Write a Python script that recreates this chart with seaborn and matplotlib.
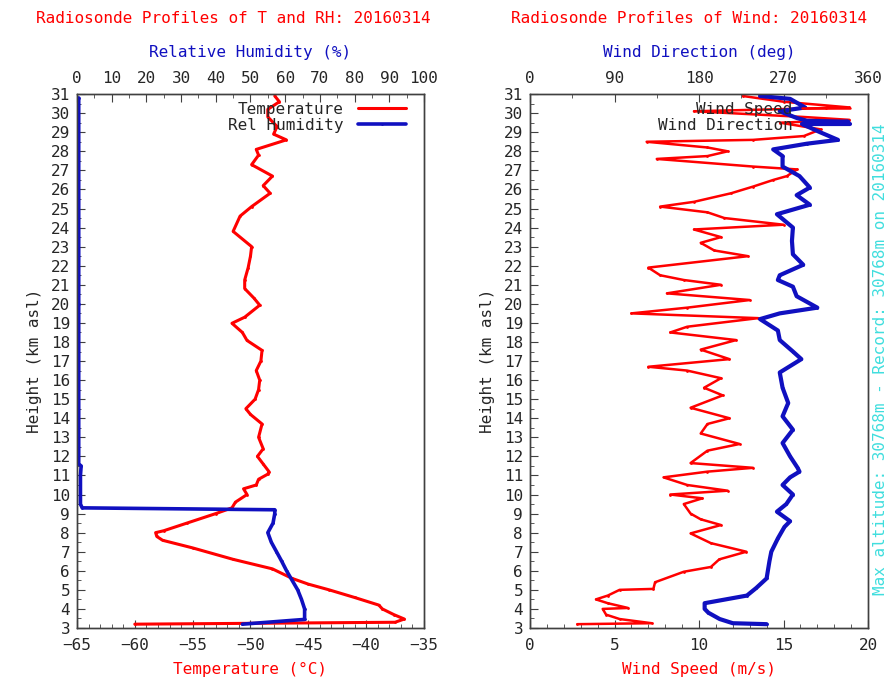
"""Radiosonde profiles: T/RH and wind, 20160314."""

import matplotlib

matplotlib.use("Agg")
import matplotlib.pyplot as plt
import seaborn as sns
from matplotlib.ticker import AutoMinorLocator, MultipleLocator

# temperature profile (height km, degC)
temp_height = [3.2, 3.3, 3.47, 3.7, 4.0, 4.2, 4.6, 5.0, 5.3, 5.6, 6.1, 6.6, 7.2, 7.6,
               7.8, 8.0, 8.1, 8.5, 9.0, 9.3, 9.6, 10.0, 10.3, 10.5, 10.8, 11.07, 11.2,
               11.6, 12.0, 12.4, 13.0, 13.7, 14.2, 14.5, 15.0, 15.5, 16.0, 16.5, 17.0,
               17.56, 18.08, 18.5, 18.98, 19.3, 19.93, 20.3, 20.8, 21.25, 21.9, 22.5,
               23.0, 23.8, 24.6, 25.1, 25.8, 26.2, 26.7, 27.3, 27.8, 28.1, 28.6, 28.9,
               29.3, 29.8, 30.2, 30.6, 30.9]
temp_values = [-60.0, -37.5, -36.7, -37.6, -38.6, -38.9, -41.0, -43.2, -45.0, -46.4,
               -48.1, -51.5, -55.0, -57.6, -58.1, -58.2, -57.5, -55.5, -53.0, -51.6,
               -51.3, -50.3, -50.6, -49.5, -49.3, -48.5, -48.4, -48.9, -49.4, -48.9,
               -49.3, -49.0, -50.0, -50.4, -49.6, -49.3, -49.2, -49.5, -49.1, -49.0,
               -50.3, -50.7, -51.6, -50.5, -49.2, -49.7, -50.5, -50.5, -50.2, -50.0,
               -49.9, -51.5, -50.9, -49.9, -48.3, -48.9, -48.1, -49.9, -49.3, -49.5,
               -46.9, -48.0, -47.7, -48.5, -48.5, -47.5, -47.9]

# relative humidity profile (height km, %)
rh_height = [3.2, 3.45, 4.0, 4.5, 5.0, 5.5, 6.0, 6.5, 7.0, 7.5, 8.0, 8.5, 9.0, 9.2,
             9.3, 9.5, 10.0, 11.0, 11.5, 11.6, 20.0, 30.8]
rh_values = [47.7, 65.6, 65.6, 64.7, 63.6, 62.0, 60.4, 59.0, 57.5, 56.0, 55.0, 56.5,
             57.0, 57.0, 1.5, 1.0, 1.0, 1.0, 1.2, 0.5, 0.5, 0.5]

# wind speed profile (height km, m/s)
ws_height = [3.2, 3.25, 3.47, 3.7, 4.0, 4.05, 4.3, 4.5, 4.7, 5.0, 5.05, 5.4, 5.95,
             6.2, 6.6, 7.0, 7.45, 7.96, 8.4, 8.7, 9.0, 9.5, 9.8, 10.0, 10.2, 10.5,
             10.9, 11.2, 11.4, 11.65, 12.3, 12.65, 13.2, 13.7, 14.0, 14.55, 15.2, 15.6,
             16.1, 16.5, 16.7, 17.1, 17.6, 18.1, 18.5, 18.8, 19.25, 19.5, 19.8, 20.2,
             20.55, 21.0, 21.25, 21.5, 21.9, 22.5, 22.8, 23.2, 23.5, 23.9, 24.15, 24.5,
             24.8, 25.1, 25.35, 25.8, 26.15, 26.5, 26.7, 27.05, 27.2, 27.6, 27.75, 28.0,
             28.2, 28.5, 28.6, 28.8, 29.15, 29.5, 29.65, 29.8, 30.1, 30.3, 30.6, 30.9]
ws_values = [2.8, 7.2, 5.3, 4.5, 4.3, 5.8, 4.6, 3.9, 4.6, 5.3, 7.3, 7.4, 9.1, 10.7,
             11.2, 12.8, 10.7, 9.5, 11.3, 10.1, 9.5, 9.1, 10.2, 8.3, 11.7, 9.3, 7.9,
             10.5, 13.2, 9.5, 10.5, 12.4, 10.1, 10.5, 11.8, 9.5, 11.4, 10.3, 11.3, 9.3,
             7.0, 11.8, 10.1, 12.2, 8.3, 9.3, 13.5, 6.0, 9.3, 13.0, 8.1, 11.3, 9.1, 7.7,
             7.0, 12.9, 10.9, 10.1, 11.3, 9.7, 15.0, 11.5, 10.5, 7.7, 9.7, 11.9, 13.2,
             14.4, 15.2, 15.8, 13.2, 7.5, 10.5, 11.7, 10.5, 6.9, 13.2, 16.2, 17.2, 14.8,
             18.9, 16.2, 9.7, 18.9, 15.0, 12.6]

# wind direction profile (height km, deg)
wd_height = [3.2, 3.25, 3.47, 3.8, 4.0, 4.3, 4.7, 5.1, 5.6, 6.5, 7.0, 7.7, 8.3, 8.6,
             9.1, 9.5, 10.0, 10.5, 10.9, 11.2, 11.4, 12.0, 12.7, 13.4, 14.1, 14.8, 15.6,
             16.4, 17.1, 17.5, 18.1, 18.6, 19.2, 19.5, 19.8, 20.4, 20.9, 21.25, 21.5,
             22.05, 22.6, 23.3, 24.0, 24.7, 25.2, 25.7, 26.1, 26.7, 27.2, 27.75, 28.1,
             28.4, 28.6, 29.0, 29.4, 29.55, 29.6, 29.75, 30.1, 30.3, 30.75, 30.9]
wd_values = [252, 216, 202, 190, 186, 186, 231, 241, 252, 255, 257, 264, 271, 277,
             263, 273, 280, 269, 277, 287, 285, 277, 269, 280, 269, 275, 269, 266, 289,
             280, 266, 264, 245, 266, 306, 284, 280, 264, 266, 291, 280, 279, 280, 263,
             298, 284, 298, 287, 269, 269, 259, 295, 328, 309, 291, 339, 295, 284, 266,
             293, 277, 245]

RED = "#ff0000"
BLUE = "#1010c0"
CYAN = "#40dede"
FS = 11.5

sns.set_style("white")
plt.rcParams["font.family"] = ["DejaVu Sans Mono", "DejaVu Sans"]
plt.rcParams["font.size"] = FS


def _frame(ax):
    for s in ax.spines.values():
        s.set_color("#404040")
        s.set_linewidth(1.0)
    ax.tick_params(which="both", direction="in", color="#404040", labelsize=FS)
    ax.tick_params(which="major", length=6)
    ax.tick_params(which="minor", length=3)


def _height_axis(ax):
    ax.set_ylim(3, 31)
    ax.yaxis.set_major_locator(MultipleLocator(1))
    ax.yaxis.set_minor_locator(MultipleLocator(0.5))
    ax.set_ylabel("Height (km asl)", fontsize=FS, labelpad=6)
    ax.tick_params(axis="y", which="both", left=True, right=False, pad=5)


fig = plt.figure(figsize=(8.92, 6.77), dpi=100)
ax1 = fig.add_axes([0.0863, 0.0724, 0.3890, 0.7886])
ax2 = fig.add_axes([0.5942, 0.0724, 0.3789, 0.7886])

# --- left: temperature and RH
sns.lineplot(x=temp_values, y=temp_height, sort=False, estimator=None, ax=ax1,
             color=RED, lw=2.2, marker=".", markersize=4, markeredgewidth=0,
             label="Temperature", legend=False)
ax1.set_xlim(-65, -35)
ax1.xaxis.set_major_locator(MultipleLocator(5))
ax1.xaxis.set_minor_locator(AutoMinorLocator(5))
ax1.set_xlabel("Temperature (°C)", color=RED, fontsize=FS, labelpad=7)
_height_axis(ax1)
_frame(ax1)
ax1.tick_params(axis="x", which="both", top=False, pad=7)

ax1t = ax1.twiny()
sns.lineplot(x=rh_values, y=rh_height, sort=False, estimator=None, ax=ax1t,
             color=BLUE, lw=2.6, marker=".", markersize=4, markeredgewidth=0,
             label="Rel Humidity", legend=False)
ax1t.set_xlim(0, 100)
ax1t.xaxis.set_major_locator(MultipleLocator(10))
ax1t.xaxis.set_minor_locator(MultipleLocator(5))
ax1t.set_xlabel("Relative Humidity (%)", color=BLUE, fontsize=FS, labelpad=10)
_frame(ax1t)
ax1t.tick_params(axis="x", which="both", bottom=False, pad=6)
ax1t.set_title("Radiosonde Profiles of T and RH: 20160314", color=RED,
               fontsize=FS, pad=16, x=0.45)

h = ax1.get_legend_handles_labels()[0] + ax1t.get_legend_handles_labels()[0]
l = ax1.get_legend_handles_labels()[1] + ax1t.get_legend_handles_labels()[1]
ax1t.legend(h, l, loc="upper right", frameon=False, markerfirst=False,
            fontsize=FS, handlelength=3.0, borderaxespad=0.1, labelspacing=0.05,
            handletextpad=0.9, bbox_to_anchor=(0.97, 1.0))

# --- right: wind
sns.lineplot(x=ws_values, y=ws_height, sort=False, estimator=None, ax=ax2,
             color=RED, lw=1.8, marker=".", markersize=4, markeredgewidth=0,
             label="Wind Speed", legend=False)
ax2.set_xlim(0, 20)
ax2.xaxis.set_major_locator(MultipleLocator(5))
ax2.xaxis.set_minor_locator(MultipleLocator(1))
ax2.set_xlabel("Wind Speed (m/s)", color=RED, fontsize=FS, labelpad=7)
_height_axis(ax2)
_frame(ax2)
ax2.tick_params(axis="x", which="both", top=False, pad=7)

ax2t = ax2.twiny()
sns.lineplot(x=wd_values, y=wd_height, sort=False, estimator=None, ax=ax2t,
             color=BLUE, lw=3.0, marker=".", markersize=4, markeredgewidth=0,
             label="Wind Direction", legend=False)
ax2t.set_xlim(0, 360)
ax2t.xaxis.set_major_locator(MultipleLocator(90))
ax2t.xaxis.set_minor_locator(MultipleLocator(45))
ax2t.set_xlabel("Wind Direction (deg)", color=BLUE, fontsize=FS, labelpad=10)
_frame(ax2t)
ax2t.tick_params(axis="x", which="both", bottom=False, pad=6)
ax2t.set_title("Radiosonde Profiles of Wind: 20160314", color=RED,
               fontsize=FS, pad=16, x=0.47)

h = ax2.get_legend_handles_labels()[0] + ax2t.get_legend_handles_labels()[0]
l = ax2.get_legend_handles_labels()[1] + ax2t.get_legend_handles_labels()[1]
ax2t.legend(h, l, loc="upper right", frameon=False, markerfirst=False,
            fontsize=FS, handlelength=3.0, borderaxespad=0.1, labelspacing=0.05,
            handletextpad=0.6, bbox_to_anchor=(0.97, 1.0))

fig.text(0.987, 0.47, "Max altitude: 30768m - Record: 30768m on 20160314",
         rotation=90, color=CYAN, fontsize=FS, ha="center", va="center")

fig.savefig("out.png", dpi=100, facecolor="white")
